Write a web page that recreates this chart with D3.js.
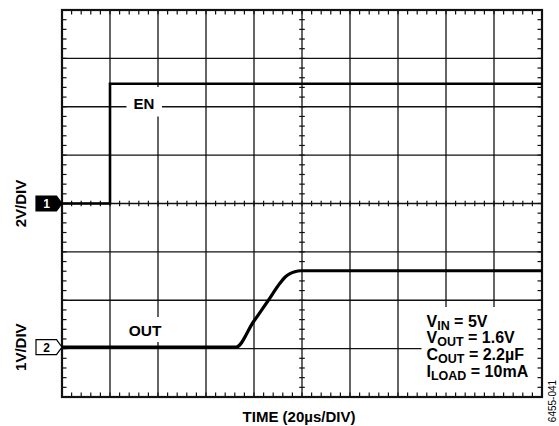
<!DOCTYPE html>
<html>
<head>
<meta charset="utf-8">
<script src="https://cdn.jsdelivr.net/npm/d3@7"></script>
<style>
  html, body { margin: 0; padding: 0; background: #fff; }
  svg { display: block; font-family: "Liberation Sans", Arial, sans-serif; }
</style>
</head>
<body>
<svg id="chart" width="559" height="426"></svg>
<script>
// ---- data (time in µs, voltages in V) ----
const enTime  = [0, 20, 20, 200];
const enVolt  = [0, 0, 4.95, 4.95];
const outTime = [0, 72.5, 79.7, 86.0, 90.8, 93.0, 95.0, 97.0, 99.5, 200];
const outVolt = [0, 0, 0.52, 0.97, 1.32, 1.45, 1.52, 1.56, 1.58, 1.58];
const ch1VoltsPerDiv = 2;
const ch2VoltsPerDiv = 1;
const ch1Ground = 4;     // divisions from bottom
const ch2Ground = 1.03;  // divisions from bottom
const xDivs = 10, yDivs = 8, usPerDiv = 20, minorPerDiv = 5;
const ch1Label = "2V/DIV", ch2Label = "1V/DIV", timeLabel = "TIME (20µs/DIV)";
const traceLabels = ["EN", "OUT"];
const legendLines = [
  ["V", "IN", " = 5V"],
  ["V", "OUT", " = 1.6V"],
  ["C", "OUT", " = 2.2µF"],
  ["I", "LOAD", " = 10mA"]
];
const figId = "6455-041";

// ---- layout ----
const L = 62, R = 542, T = 10, B = 397;
const svg = d3.select("#chart");
const x = d3.scaleLinear().domain([0, xDivs * usPerDiv]).range([L, R]);
const yDiv = d3.scaleLinear().domain([0, yDivs]).range([B, T]);
const y1 = v => yDiv(ch1Ground + v / ch1VoltsPerDiv);
const y2 = v => yDiv(ch2Ground + v / ch2VoltsPerDiv);
const ink = "#111";

// grid
const g = svg.append("g");
g.selectAll("line.vg").data(d3.range(1, xDivs)).join("line")
  .attr("x1", d => x(d * usPerDiv)).attr("x2", d => x(d * usPerDiv))
  .attr("y1", T).attr("y2", B).attr("stroke", ink).attr("stroke-width", 1.3);
g.selectAll("line.hg").data(d3.range(1, yDivs)).join("line")
  .attr("y1", d => yDiv(d)).attr("y2", d => yDiv(d))
  .attr("x1", L).attr("x2", R).attr("stroke", ink).attr("stroke-width", 1.3);

// white label boxes that break the grid
const boxes = [
  {x0: 126.5, y0: 87, x1: 162, y1: 116.5},
  {x0: 120, y0: 317, x1: 166, y1: 342},
  {x0: 421.5, y0: 307, x1: 541, y1: 396}
];
svg.append("g").selectAll("rect").data(boxes).join("rect")
  .attr("x", d => d.x0).attr("y", d => d.y0)
  .attr("width", d => d.x1 - d.x0).attr("height", d => d.y1 - d.y0)
  .attr("fill", "#fff");

// minor ticks
const xMinor = d3.range(0, xDivs * minorPerDiv + 1).map(i => i * usPerDiv / minorPerDiv);
const yMinor = d3.range(0, yDivs * minorPerDiv + 1).map(i => i / minorPerDiv);
const tk = svg.append("g").attr("stroke", ink).attr("stroke-width", 1.2);
const tl = 4.5, cl = 2.8;
tk.selectAll("line.t").data(xMinor).join("line")
  .attr("x1", d => x(d)).attr("x2", d => x(d)).attr("y1", T).attr("y2", T + tl);
tk.selectAll("line.b").data(xMinor).join("line")
  .attr("x1", d => x(d)).attr("x2", d => x(d)).attr("y1", B).attr("y2", B - tl);
tk.selectAll("line.l").data(yMinor).join("line")
  .attr("y1", d => yDiv(d)).attr("y2", d => yDiv(d)).attr("x1", L).attr("x2", L + tl);
tk.selectAll("line.r").data(yMinor).join("line")
  .attr("y1", d => yDiv(d)).attr("y2", d => yDiv(d)).attr("x1", R).attr("x2", R - tl);
tk.selectAll("line.ch").data(xMinor).join("line")
  .attr("x1", d => x(d)).attr("x2", d => x(d))
  .attr("y1", yDiv(yDivs / 2) - cl).attr("y2", yDiv(yDivs / 2) + cl);
tk.selectAll("line.cv").data(yMinor).join("line")
  .attr("y1", d => yDiv(d)).attr("y2", d => yDiv(d))
  .attr("x1", x(xDivs * usPerDiv / 2) - cl).attr("x2", x(xDivs * usPerDiv / 2) + cl);

// frame
svg.append("rect").attr("x", L).attr("y", T).attr("width", R - L).attr("height", B - T)
  .attr("fill", "none").attr("stroke", ink).attr("stroke-width", 2.2);

// traces
const enLine = d3.line().x(d => x(d[0])).y(d => y1(d[1]));
const outLine = d3.line().x(d => x(d[0])).y(d => y2(d[1])).curve(d3.curveMonotoneX);
svg.append("path").datum(d3.zip(enTime, enVolt)).attr("d", enLine)
  .attr("fill", "none").attr("stroke", "#000").attr("stroke-width", 2.6);
svg.append("path").datum(d3.zip(outTime, outVolt)).attr("d", outLine)
  .attr("fill", "none").attr("stroke", "#000").attr("stroke-width", 3.2);

// trace labels
svg.append("text").attr("x", 144).attr("y", 108.5).attr("text-anchor", "middle")
  .attr("font-size", 15).attr("font-weight", "bold").text(traceLabels[0]);
svg.append("text").attr("x", 145).attr("y", 336).attr("text-anchor", "middle")
  .attr("font-size", 15.5).attr("font-weight", "bold").text(traceLabels[1]);

// legend
const lg = svg.append("g").attr("font-size", 16).attr("font-weight", "bold");
legendLines.forEach((ln, i) => {
  const t = lg.append("text").attr("x", 426.5).attr("y", 326.5 + i * 16.8);
  t.append("tspan").text(ln[0]);
  t.append("tspan").attr("font-size", 12.5).attr("dy", 3).text(ln[1]);
  t.append("tspan").attr("dy", -3).text(ln[2]);
});

// axis labels
svg.append("text").attr("transform", `translate(26,${y1(0)}) rotate(-90)`)
  .attr("text-anchor", "middle").attr("font-size", 15).attr("font-weight", "bold").text(ch1Label);
svg.append("text").attr("transform", `translate(26,${y2(0)}) rotate(-90)`)
  .attr("text-anchor", "middle").attr("font-size", 15).attr("font-weight", "bold").text(ch2Label);
svg.append("text").attr("x", 299).attr("y", 421.5).attr("text-anchor", "middle")
  .attr("font-size", 15).attr("font-weight", "bold").text(timeLabel);
svg.append("text").attr("transform", "translate(556,401) rotate(-90)")
  .attr("text-anchor", "middle").attr("font-size", 10).text(figId);

// channel markers
function marker(cy, num, filled) {
  const hh = 7.5, x0 = 36, xp = 56.5, xt = L;
  svg.append("path")
    .attr("d", `M${x0},${cy - hh}L${xp},${cy - hh}L${xt},${cy}L${xp},${cy + hh}L${x0},${cy + hh}Z`)
    .attr("fill", filled ? "#000" : "#fff").attr("stroke", "#000").attr("stroke-width", 1.2);
  svg.append("text").attr("x", 46.5).attr("y", cy + 4.5).attr("text-anchor", "middle")
    .attr("font-size", 12).attr("font-weight", "bold")
    .attr("fill", filled ? "#fff" : "#000").text(num);
}
marker(y1(0), "1", true);
marker(y2(0), "2", false);
</script>
</body>
</html>
